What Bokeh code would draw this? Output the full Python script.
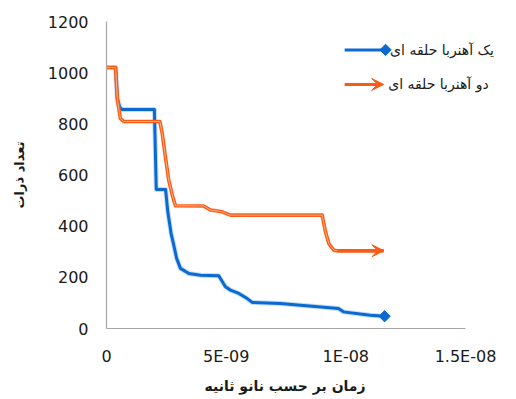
import numpy as np
from bokeh.plotting import figure
from bokeh.models import Range1d, FixedTicker, Label, Arrow, VeeHead, Title
from bokeh.embed import file_html
from bokeh.resources import INLINE

# ---- data (time in nanoseconds, particle counts) ----
blue_t = [0, 0.38, 0.45, 0.55, 0.66, 2.0, 2.08, 2.47, 2.56, 2.70, 2.81, 2.93, 3.09, 3.44, 3.93,
          4.69, 4.97, 5.18, 5.53, 5.88, 6.09, 7.27, 8.11, 9.69, 9.90, 11.02, 11.62]
blue_n = [1020, 1020, 900, 865, 856, 856, 543, 543, 457, 371, 326, 274, 235, 215, 208,
          206, 163, 150, 137, 117, 102, 98, 91, 78, 65, 52, 48]

orange_t = [0, 0.38, 0.45, 0.58, 0.72, 2.23, 2.33, 2.47, 2.60, 2.75, 2.88, 4.05, 4.35, 4.83,
            5.18, 9.01, 9.15, 9.29, 9.50, 9.64, 11.59]
orange_n = [1020, 1020, 899, 821, 809, 809, 762, 665, 580, 521, 480, 479, 463, 456,
            443, 443, 378, 332, 306, 304, 304]

x_ticks = [0, 5, 10, 15]
x_tick_labels = ["0", "5E-09", "1E-08", "1.5E-08"]
y_ticks = [0, 200, 400, 600, 800, 1000, 1200]

series_names = ["یک آهنربا حلقه ای", "دو آهنربا حلقه ای"]
x_title = "زمان بر حسب نانو ثانیه"
y_title = "تعداد ذرات"

BLUE = "#0b6ad2"
BLUE_GLOW = "#9cc4ee"
ORANGE = "#fb5a12"
ORANGE_IN = "#ffc4a0"
FONT = "DejaVu Sans"

# axis spans 0..15 ns over 359 px; the frame continues to the right to hold the legend
AXIS_W = 359
FRAME_W = 394
x_end = x_ticks[-1] * FRAME_W / AXIS_W

p = figure(frame_width=FRAME_W, frame_height=307, output_backend="svg", toolbar_location=None,
           x_range=Range1d(0, x_end), y_range=Range1d(0, 1200))
p.min_border_left = 106
p.min_border_right = 0
p.min_border_top = 21
p.min_border_bottom = 60
p.outline_line_color = None
p.grid.visible = False

for ax in (p.xaxis[0], p.yaxis[0]):
    ax.axis_line_color = "#a6a6a6"
    ax.axis_line_width = 1.2
    ax.major_tick_in = 0
    ax.major_tick_out = 0
    ax.minor_tick_in = 0
    ax.minor_tick_out = 0
    ax.major_label_text_font = FONT
    ax.major_label_text_font_size = "16px"
    ax.major_label_text_color = "#1a1a1a"
    ax.major_label_standoff = 18
    ax.axis_label_text_font = FONT
    ax.axis_label_text_font_style = "bold"
    ax.axis_label_text_font_size = "13px"
    ax.axis_label_text_color = "#1a1a1a"

p.xaxis[0].ticker = FixedTicker(ticks=x_ticks)
p.xaxis[0].bounds = (x_ticks[0], x_ticks[-1])
p.xaxis[0].major_label_overrides = {t: l for t, l in zip(x_ticks, x_tick_labels)}
p.yaxis[0].ticker = FixedTicker(ticks=y_ticks)
p.yaxis[0].axis_label = y_title
p.yaxis[0].axis_label_standoff = 18

p.add_layout(Title(text=x_title, align="left", offset=98, standoff=14,
                   text_font=FONT, text_font_style="bold", text_font_size="14px",
                   text_color="#1a1a1a"), "below")

# ---- series ----
p.line(blue_t, blue_n, line_color=BLUE_GLOW, line_width=5, line_alpha=0.6, line_join="round")
p.line(blue_t, blue_n, line_color=BLUE, line_width=3, line_join="round")
p.scatter([blue_t[-1]], [blue_n[-1]], marker="square", angle=np.pi / 4, size=8,
          fill_color=BLUE, line_color=BLUE)

p.line(orange_t, orange_n, line_color=ORANGE, line_width=3.6, line_join="round")
p.line(orange_t, orange_n, line_color=ORANGE_IN, line_width=1, line_alpha=0.8, line_join="round")
p.add_layout(Arrow(end=VeeHead(size=12, fill_color=ORANGE, line_color=ORANGE, line_width=1),
                   x_start=orange_t[-2], y_start=orange_n[-2],
                   x_end=orange_t[-1], y_end=orange_n[-1],
                   line_color=ORANGE, line_width=3.6))

# ---- legend (manual, to match the key style) ----
leg_x0, leg_x1, leg_tx = 9.95, 11.62, 11.85
leg_y = [1089, 954]
p.line([leg_x0, leg_x1], [leg_y[0], leg_y[0]], line_color=BLUE, line_width=3)
p.scatter([leg_x1 + 0.04], [leg_y[0]], marker="square", angle=np.pi / 4, size=8,
          fill_color=BLUE, line_color=BLUE)
p.add_layout(Arrow(end=VeeHead(size=12, fill_color=ORANGE, line_color=ORANGE, line_width=1),
                   x_start=leg_x0, y_start=leg_y[1], x_end=leg_x1 - 0.04, y_end=leg_y[1],
                   line_color=ORANGE, line_width=3))
for name, yy, xx in zip(series_names, leg_y, [leg_tx, leg_tx - 0.08]):
    p.add_layout(Label(x=xx, y=yy, text=name, text_font=FONT, text_font_size="14px",
                       text_baseline="middle", text_align="left", text_color="#1a1a1a"))

open("out.html", "w").write(file_html(p, INLINE))
